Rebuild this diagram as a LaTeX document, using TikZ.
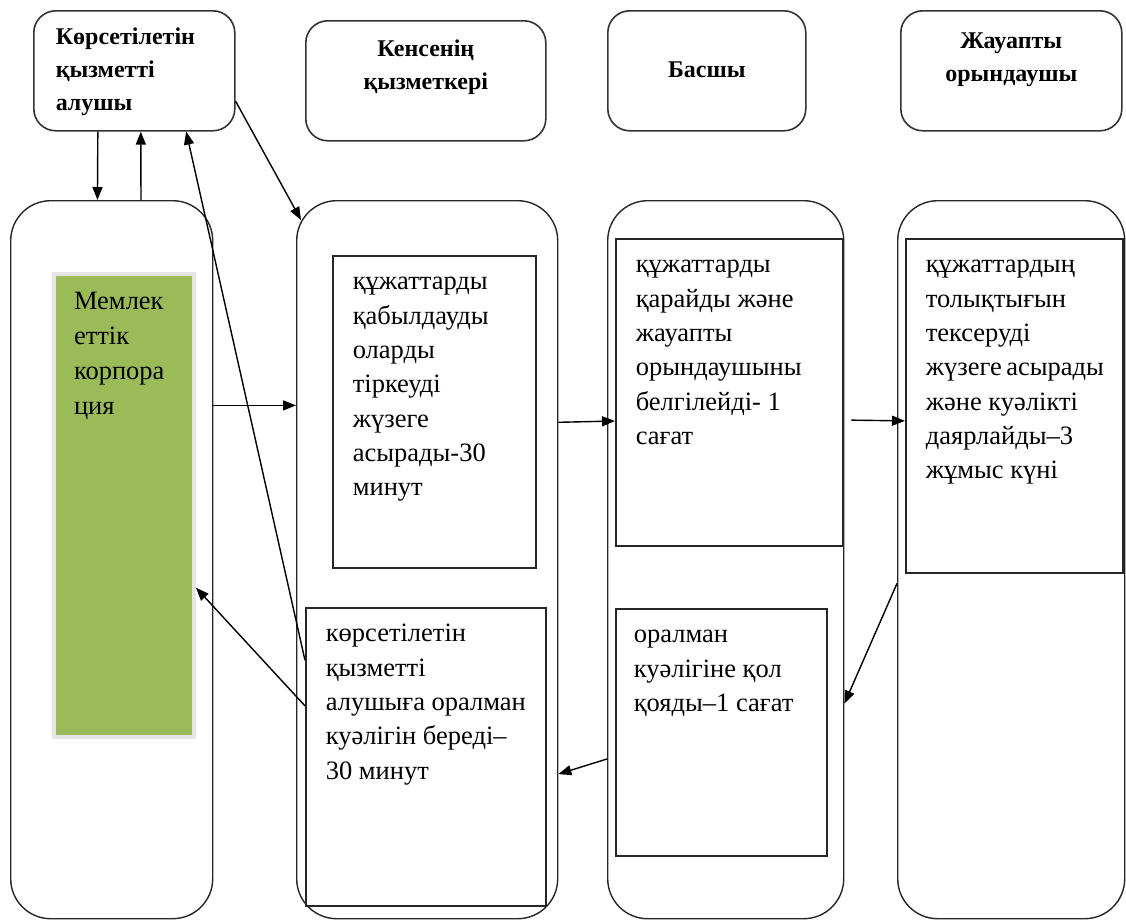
\documentclass[tikz,border=0pt]{standalone}
\usepackage{fontspec}
\setmainfont{Liberation Serif}
\usetikzlibrary{arrows.meta,calc}
\definecolor{corpgreen}{HTML}{9BBB59}
\newcommand{\boxtext}[3]{\parbox[c][#1][t]{#2}{\raggedright\hbadness=10000\hfuzz=50pt\strut #3\strut}}

\tikzset{
  head/.style={draw=black!80, line width=1.6pt, rounded corners=22pt, anchor=north west,
    inner xsep=22pt, inner ysep=0pt, font=\bfseries\fontsize{24}{33}\selectfont},
  lane/.style={draw=black!85, line width=1.4pt, rounded corners=40pt, anchor=north west,
    inner sep=0pt, minimum height=718pt},
  stepbox/.style={draw=black!85, line width=1.6pt, anchor=north west, inner xsep=20pt,
    inner ysep=10pt, font=\fontsize{26.5}{34.3}\selectfont},
  corpbox/.style={fill=corpgreen, draw=black!10, line width=4pt, anchor=north west,
    inner xsep=20pt, inner ysep=10.5pt, font=\fontsize{26.5}{35}\selectfont},
  arr/.style={-{Triangle[length=13pt,width=10pt]}, line width=1.4pt}
}

\begin{document}
\begin{tikzpicture}[x=1pt, y=-1pt]
\useasboundingbox (0,0) rectangle (1126,921);
\node[head] (recv) at (33,10) {\parbox[c][120pt][c]{157pt}{\raggedright\strut Көрсетілетін\\қызметті\\алушы\strut}};
\node[head, inner xsep=10pt] (clerk) at (305,20) {\parbox[c][120pt][t]{220pt}{\centering\vspace*{13pt}\strut Кенсенің\\қызметкері\strut}};
\node[head, inner xsep=10pt] (chief) at (607,10) {\parbox[c][120pt][c]{178pt}{\centering\strut Басшы\strut}};
\node[head, inner xsep=10pt] (exec) at (900,10) {\parbox[c][120pt][t]{201pt}{\centering\vspace*{15pt}\strut Жауапты\\орындаушы\strut}};

\node[lane, minimum width=202pt] (recvlane) at (10,200) {};
\node[lane, minimum width=261pt] (clerklane) at (296,200) {};
\node[lane, minimum width=236pt] (chieflane) at (607,200) {};
\node[lane, minimum width=227pt] (execlane) at (897,200) {};

\node[corpbox] (corp) at (52,272) {\boxtext{442pt}{100pt}{Мемлек\\еттік\\корпора\\ция}};
\node[stepbox] (accept) at (332,255) {\boxtext{292pt}{163pt}{құжаттарды\\қабылдауды\\оларды\\тіркеуді\\жүзеге\\асырады-30\\минут}};
\node[stepbox] (view) at (615,238) {\boxtext{287pt}{187pt}{құжаттарды\\қарайды~және\\жауапты\\орындаушыны\\белгілейді-~1\\сағат}};
\node[stepbox] (check) at (905,238) {\boxtext{314pt}{177pt}{құжаттардың\\толықтығын\\тексеруді\\жүзеге~асырады\\және~куәлікті\\даярлайды–3\\жұмыс~күні}};
\node[stepbox, inner xsep=18pt] (sign) at (615,608) {\boxtext{227pt}{175pt}{оралман\\куәлігіне~қол\\қояды–1~сағат}};
\node[stepbox] (issue) at (305,607) {\boxtext{278pt}{200pt}{көрсетілетін\\қызметті\\алушыға~оралман\\куәлігін~береді–\\30~минут}};

\draw[arr] ($(recv.south west)!.32!(recv.south east)$) -- ($(recvlane.north west)!.43!(recvlane.north east)$);
\draw[arr] ($(recvlane.north west)!.644!(recvlane.north east)$) -- ($(recv.south west)!.532!(recv.south east)$);
\draw[arr] ($(issue.north west)!.178!(issue.south west)$) -- ($(recv.south west)!.756!(recv.south east)$);
\draw[arr] ($(issue.north west)!.33!(issue.south west)$) -- ($(corp.north east)!.676!(corp.south east)$);
\draw[arr] ($(recv.north east)!.75!(recv.south east)$) -- ($(clerklane.north west)+(5,20)$);
\draw[arr] ($(recvlane.north east)!.2855!(recvlane.south east)$) -- ($(clerklane.north west)!.2855!(clerklane.south west)$);
\draw[arr] ($(clerklane.north east)!.309!(clerklane.south east)$) -- ($(view.north west)!.593!(view.south west)$);
\draw[arr] ($(chieflane.north east)!.306!(chieflane.south east)+(7,0)$) -- ($(check.north west)!.545!(check.south west)$);
\draw[arr] ($(execlane.north west)!.533!(execlane.south west)$) -- ($(chieflane.north east)!.70!(chieflane.south east)$);
\draw[arr] ($(chieflane.north west)!.777!(chieflane.south west)$) -- ($(clerklane.north east)!.798!(clerklane.south east)$);
\end{tikzpicture}
\end{document}
